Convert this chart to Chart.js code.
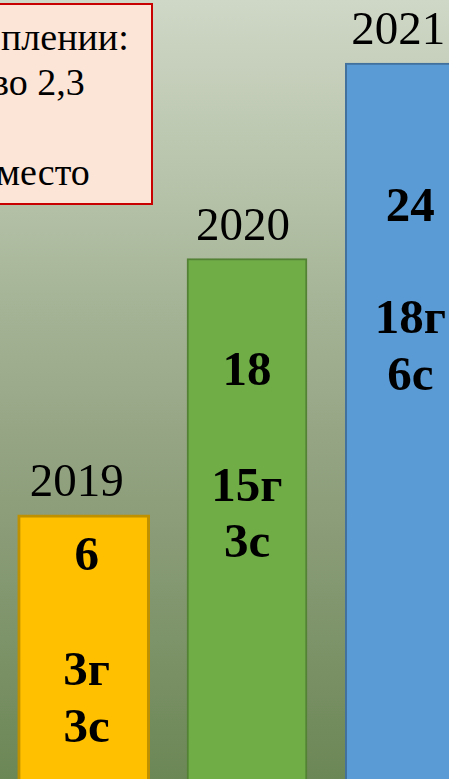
<!DOCTYPE html>
<html>
<head>
<meta charset="utf-8">
<script src="https://cdn.jsdelivr.net/npm/chart.js@4/dist/chart.umd.min.js"></script>
<style>
    html, body {
        margin: 0;
        width: 449px;
        height: 779px;
        overflow: hidden;
    }
    body {
        position: relative;
        background: linear-gradient(to bottom, #CFD7C6 0%, #B4C1A7 26%, #A7B598 37%, #8E9F7C 64%, #6C8756 100%);
        font-family: "Liberation Serif", "Times New Roman", serif;
    }
    #chart {
        position: absolute;
        left: 2px;
        top: 0;
    }
    .note {
        position: absolute;
        left: -10px;
        top: 3px;
        width: 163px;
        height: 202px;
        box-sizing: border-box;
        border: 2px solid #C80000;
        background: #FCE4D6;
        padding-top: 10px;
        font-size: 38px;
        line-height: 45px;
        color: #000;
        white-space: nowrap;
        overflow: hidden;
    }
    .note div { height: 45px; }
</style>
</head>
<body>
<canvas id="chart" width="490" height="779"></canvas>
<div class="note">
    <div style="margin-left: 9px">плении:</div>
    <div style="margin-left: -1px">во 2,3</div>
    <div></div>
    <div style="margin-left: 4px">место</div>
</div>
<script>
    const years = ['2019', '2020', '2021']
    const totals = [6, 18, 24]
    const gCounts = [3, 15, 18]
    const sCounts = [3, 3, 6]
    // bar top on a 0-100 scale (bars are not drawn to the totals in the picture)
    const barLevels = [33.9, 66.8, 91.9]

    const fills = ['#FFC000', '#70AD47', '#5B9BD5']
    const borders = ['#BF9000', '#548235', '#41719C']
    const widths = [132, 120, 130]
    const borderWidths = [3, 2, 2]
    // baseline offsets below the bar top for: total, "г" line, "с" line
    const textOffsets = [[55, 170, 227], [126, 242, 298], [158, 270, 327]]
    const yearShift = [-7, -4, -12]
    const textShift = [3, 0, 0]

    const barText = {
        id: 'barText',
        afterDatasetsDraw(chart) {
            const ctx = chart.ctx
            ctx.save()
            ctx.textAlign = 'center'
            ctx.textBaseline = 'alphabetic'
            ctx.fillStyle = '#000'
            years.forEach((year, i) => {
                const bar = chart.getDatasetMeta(i).data[i]
                const off = textOffsets[i]
                const x = bar.x + textShift[i]
                ctx.font = '47px "Liberation Serif", "Times New Roman", serif'
                ctx.fillText(year, bar.x + yearShift[i], bar.y - 19)
                ctx.font = 'bold 49px "Liberation Serif", "Times New Roman", serif'
                ctx.fillText(String(totals[i]), x, bar.y + off[0])
                ctx.fillText(gCounts[i] + 'г', x, bar.y + off[1])
                ctx.fillText(sCounts[i] + 'с', x, bar.y + off[2])
            })
            ctx.restore()
        }
    }

    new Chart(document.getElementById('chart'), {
        type: 'bar',
        data: {
            labels: years,
            datasets: years.map((year, i) => ({
                label: year,
                data: years.map((_, j) => j === i ? barLevels[i] : null),
                backgroundColor: fills[i],
                borderColor: borders[i],
                borderWidth: borderWidths[i],
                barThickness: widths[i],
                grouped: false
            }))
        },
        options: {
            responsive: false,
            devicePixelRatio: 1,
            animation: false,
            layout: {padding: 0},
            plugins: {
                legend: {display: false},
                tooltip: {enabled: false}
            },
            scales: {
                x: {display: false},
                y: {display: false, min: 0, max: 100}
            }
        },
        plugins: [barText]
    })
</script>
</body>
</html>
